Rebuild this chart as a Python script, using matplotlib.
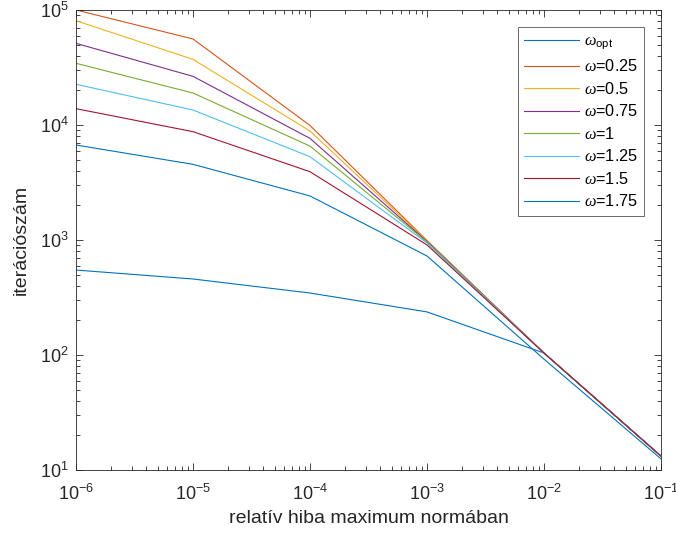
import numpy as np
import matplotlib
matplotlib.use("Agg")
import matplotlib.pyplot as plt
from matplotlib.ticker import LogLocator, NullFormatter

plt.rcParams['font.family'] = ['Liberation Sans', 'DejaVu Sans']
plt.rcParams['mathtext.fontset'] = 'custom'
plt.rcParams['mathtext.rm'] = 'Liberation Sans'
plt.rcParams['mathtext.it'] = 'Liberation Serif:italic'

# relative error tolerance (x) and iteration counts for each omega
hiba = [1e-6, 1e-5, 1e-4, 1e-3, 1e-2, 1e-1]

it_opt = [548, 458, 346, 237, 104, 13.2]
it_025 = [100000, 56000, 9900, 990, 104, 13.2]
it_050 = [80700, 37200, 8870, 980, 104, 13.2]
it_075 = [51300, 26500, 7650, 970, 104, 13.2]
it_100 = [34400, 18970, 6560, 960, 104, 13.2]
it_125 = [22600, 13500, 5300, 942, 104, 13.2]
it_150 = [13870, 8750, 3925, 906, 104, 13.2]
it_175 = [6700, 4550, 2415, 726, 92, 12.5]

labels = [r'$\omega_{\mathregular{opt}}$', r'$\omega$=0.25', r'$\omega$=0.5', r'$\omega$=0.75',
          r'$\omega$=1', r'$\omega$=1.25', r'$\omega$=1.5', r'$\omega$=1.75']
series = [it_opt, it_025, it_050, it_075, it_100, it_125, it_150, it_175]
colors = ['#0072BD', '#D95319', '#EDB120', '#7E2F8E', '#77AC30', '#4DBEEE', '#A2142F', '#0072BD']

fig = plt.figure(figsize=(6.76, 5.36), dpi=100)
ax = fig.add_axes([76/676, 1 - 470/536, 585/676, 460/536])

for vals, lab, c in zip(series, labels, colors):
    ax.plot(hiba, vals, color=c, linewidth=0.8, label=lab)

ax.set_xscale('log')
ax.set_yscale('log')
ax.set_xlim(1e-6, 1e-1)
ax.set_ylim(10, 1e5)

ax.set_xticks([1e-6, 1e-5, 1e-4, 1e-3, 1e-2, 1e-1])
ax.set_xticklabels([r'$\mathregular{10^{-%d}}$' % k for k in range(6, 0, -1)])
ax.set_yticks([1e1, 1e2, 1e3, 1e4, 1e5])
ax.set_yticklabels([r'$\mathregular{10^{%d}}$' % k for k in range(1, 6)])
ax.xaxis.set_minor_locator(LogLocator(base=10, subs=np.arange(2, 10), numticks=20))
ax.yaxis.set_minor_locator(LogLocator(base=10, subs=np.arange(2, 10), numticks=20))
ax.xaxis.set_minor_formatter(NullFormatter())
ax.yaxis.set_minor_formatter(NullFormatter())

ax.tick_params(which='both', direction='in', top=True, right=True, colors='#262626',
               labelcolor='#262626', labelsize=13, width=0.6)
ax.tick_params(which='major', length=5)
ax.tick_params(which='minor', length=3)
ax.tick_params(axis='x', pad=10)
ax.tick_params(axis='y', pad=5)
for s in ax.spines.values():
    s.set_color('#262626')
    s.set_linewidth(0.6)

ax.set_xlabel('relatív hiba maximum normában', fontsize=14, color='#262626')
ax.set_ylabel('iterációszám', fontsize=14, color='#262626')
ax.xaxis.set_label_coords(0.5, -0.088)
ax.yaxis.set_label_coords(-0.094, 0.5)
ax.yaxis.label.set_va('center')
ax.xaxis.label.set_va('top')

leg = ax.legend(loc='upper right', fontsize=11.7, frameon=True, fancybox=False,
                edgecolor='#262626', handlelength=3.4, handletextpad=0.25,
                borderaxespad=1.05, labelspacing=0.4, borderpad=0.4)
leg.get_frame().set_linewidth(0.6)

fig.savefig('out.png', dpi=100)
